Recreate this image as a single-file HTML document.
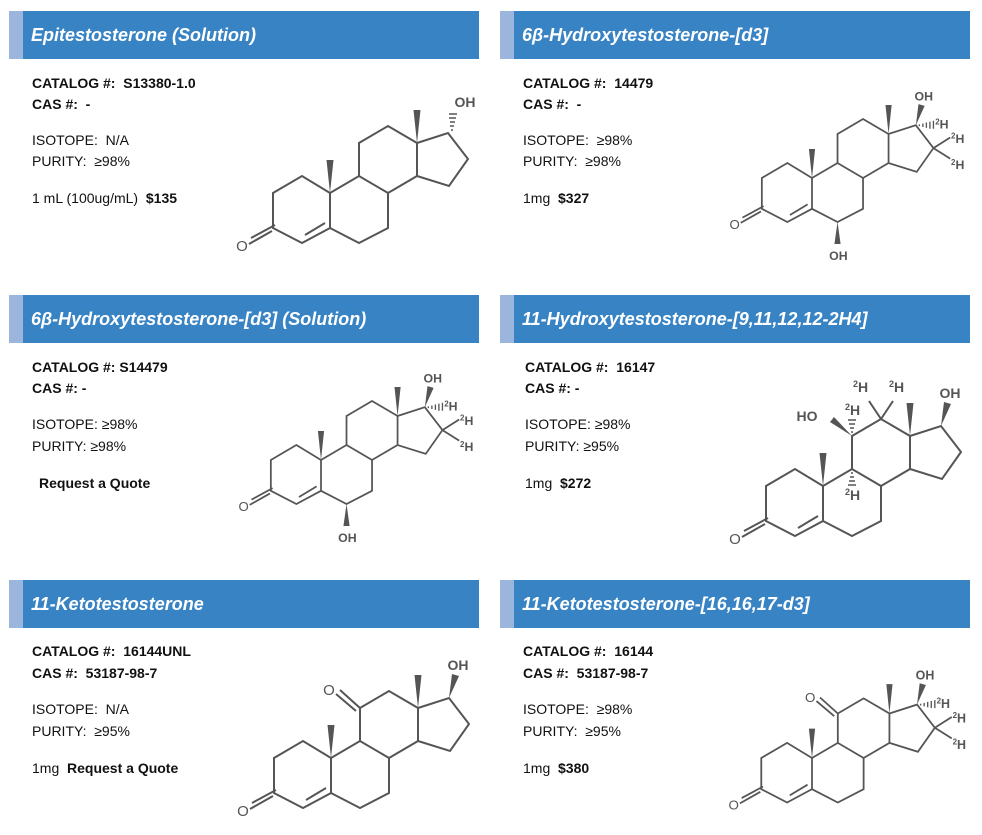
<!DOCTYPE html>
<html><head><meta charset="utf-8"><style>
body{margin:0;width:982px;height:835px;background:#fff;position:relative;font-family:"Liberation Sans",Arial,sans-serif;overflow:hidden}
.h{position:absolute;height:48px;width:470px;background:#3783c4;color:#fff;font-weight:bold;font-style:italic;font-size:18px;line-height:48px;box-sizing:border-box;padding-left:22px}
.h::before{content:"";position:absolute;left:0;top:0;width:14px;height:48px;background:#9bb5dd}
.t{position:absolute;font-size:14px;color:#111;white-space:pre;line-height:16px}
.b{font-weight:bold}
svg{position:absolute;left:0;top:0}
</style></head><body>
<div class="h" style="left:9px;top:11px">Epitestosterone (Solution)</div>
<div class="h" style="left:500px;top:11px">6β-Hydroxytestosterone-[d3]</div>
<div class="h" style="left:9px;top:295px">6β-Hydroxytestosterone-[d3] (Solution)</div>
<div class="h" style="left:500px;top:295px">11-Hydroxytestosterone-[9,11,12,12-2H4]</div>
<div class="h" style="left:9px;top:580px">11-Ketotestosterone</div>
<div class="h" style="left:500px;top:580px">11-Ketotestosterone-[16,16,17-d3]</div>

<div class="t b" style="left:32px;top:75px">CATALOG #:  S13380-1.0</div>
<div class="t b" style="left:32px;top:96px">CAS #:  -</div>
<div class="t" style="left:32px;top:132px">ISOTOPE:  N/A</div>
<div class="t" style="left:32px;top:153px">PURITY:  ≥98%</div>
<div class="t" style="left:32px;top:190px">1 mL (100ug/mL)  <b>$135</b></div>

<div class="t b" style="left:523px;top:75px">CATALOG #:  14479</div>
<div class="t b" style="left:523px;top:96px">CAS #:  -</div>
<div class="t" style="left:523px;top:132px">ISOTOPE:  ≥98%</div>
<div class="t" style="left:523px;top:153px">PURITY:  ≥98%</div>
<div class="t" style="left:523px;top:190px">1mg  <b>$327</b></div>

<div class="t b" style="left:32px;top:359px">CATALOG #: S14479</div>
<div class="t b" style="left:32px;top:380px">CAS #: -</div>
<div class="t" style="left:32px;top:416px">ISOTOPE: ≥98%</div>
<div class="t" style="left:32px;top:438px">PURITY: ≥98%</div>
<div class="t b" style="left:39px;top:475px">Request a Quote</div>

<div class="t b" style="left:525px;top:359px">CATALOG #:  16147</div>
<div class="t b" style="left:525px;top:380px">CAS #: -</div>
<div class="t" style="left:525px;top:416px">ISOTOPE: ≥98%</div>
<div class="t" style="left:525px;top:438px">PURITY: ≥95%</div>
<div class="t" style="left:525px;top:475px">1mg  <b>$272</b></div>

<div class="t b" style="left:32px;top:643px">CATALOG #:  16144UNL</div>
<div class="t b" style="left:32px;top:665px">CAS #:  53187-98-7</div>
<div class="t" style="left:32px;top:701px">ISOTOPE:  N/A</div>
<div class="t" style="left:32px;top:723px">PURITY:  ≥95%</div>
<div class="t" style="left:32px;top:760px">1mg  <b>Request a Quote</b></div>

<div class="t b" style="left:523px;top:643px">CATALOG #:  16144</div>
<div class="t b" style="left:523px;top:665px">CAS #:  53187-98-7</div>
<div class="t" style="left:523px;top:701px">ISOTOPE:  ≥98%</div>
<div class="t" style="left:523px;top:723px">PURITY:  ≥95%</div>
<div class="t" style="left:523px;top:760px">1mg  <b>$380</b></div>

<svg width="982" height="835" viewBox="0 0 982 835">
<defs>
<g id="core" fill="none" stroke="#555" stroke-width="2">
<path d="M0,0 L-28,-17 L-57,0 L-57,35 L-28,50 L0,35 Z"/>
<path d="M0,0 L29,-17 L58,0 L58,35 L29,50 L0,35"/>
<path d="M29,-17 L29,-50 L58,-67 L87,-50 L87,-17 L58,0"/>
<path d="M87,-50 L118,-60 L138,-34 L119,-7 L87,-17"/>
<line x1="-25" y1="42" x2="-5" y2="30"/>
<line x1="-55" y1="32" x2="-79" y2="45"/>
<line x1="-58" y1="38" x2="-81" y2="51"/>
<polygon points="0,0 -3.5,-33 3.5,-33" fill="#555" stroke="none"/>
<polygon points="87,-50 83.5,-83 90.5,-83" fill="#555" stroke="none"/>
</g>
<g id="o3"><text x="-88" y="58" font-size="15" fill="#555" text-anchor="middle" font-family="Liberation Sans,sans-serif">O</text></g>
<g id="ohbeta"><polygon points="118,-60 121,-84 128,-82" fill="#555"/><text x="127" y="-88" font-size="14" font-weight="bold" fill="#555" text-anchor="middle" font-family="Liberation Sans,sans-serif">OH</text></g>
<g id="d3" stroke="#555" stroke-width="1.5" fill="#555" font-size="14" font-weight="bold" font-family="Liberation Sans,sans-serif">
<path d="M122,-61v2M126,-62v4M130,-63v6M134,-64v8M138,-65v9"/>
<line x1="138" y1="-34" x2="157" y2="-46" stroke-width="2"/>
<line x1="138" y1="-34" x2="157" y2="-22" stroke-width="2"/>
<text x="140" y="-56" stroke="none"><tspan font-size="9" dy="-5">2</tspan><tspan dy="5">H</tspan></text>
<text x="158" y="-40" stroke="none"><tspan font-size="9" dy="-5">2</tspan><tspan dy="5">H</tspan></text>
<text x="158" y="-10" stroke="none"><tspan font-size="9" dy="-5">2</tspan><tspan dy="5">H</tspan></text>
</g>
<g id="oh6"><polygon points="29,50 25.5,75 32.5,75" fill="#555"/><text x="30" y="93" font-size="14" font-weight="bold" fill="#555" text-anchor="middle" font-family="Liberation Sans,sans-serif">OH</text></g>
<g id="keto11" stroke="#555" stroke-width="2"><line x1="29" y1="-50" x2="9" y2="-68"/><line x1="25" y1="-47" x2="5" y2="-64"/><text x="-2" y="-63" stroke="none" font-size="15" fill="#555" text-anchor="middle" font-family="Liberation Sans,sans-serif">O</text></g>
</defs>

<g transform="translate(330,193)">
<use href="#core"/><use href="#o3"/>
<path d="M121,-63h2M120,-67h4M120,-71h5M119,-75h7M119,-79h8" stroke="#555" stroke-width="1.5"/>
<text x="135" y="-86" font-size="14" font-weight="bold" fill="#555" text-anchor="middle" font-family="Liberation Sans,sans-serif">OH</text>
</g>
<g transform="translate(812,178) scale(0.88)">
<use href="#core"/><use href="#o3"/><use href="#ohbeta"/><use href="#d3"/><use href="#oh6"/>
</g>
<g transform="translate(321,460) scale(0.88)">
<use href="#core"/><use href="#o3"/><use href="#ohbeta"/><use href="#d3"/><use href="#oh6"/>
</g>
<g transform="translate(823,486)">
<use href="#core"/><use href="#o3"/><use href="#ohbeta"/>
<g stroke="#555" stroke-width="1.5" fill="#555" font-size="14" font-weight="bold" font-family="Liberation Sans,sans-serif">
<polygon points="29,-50 7,-64 11,-69" stroke="none"/>
<text x="-16" y="-65" stroke="none" text-anchor="middle">HO</text>
<path d="M28,-54h2M27,-58h4M26,-62h6M25,-66h8"/>
<text x="22" y="-71" stroke="none"><tspan font-size="9" dy="-5">2</tspan><tspan dy="5">H</tspan></text>
<path d="M28,-13h2M27,-9h4M26,-5h6M25,-1h8"/>
<text x="22" y="14" stroke="none"><tspan font-size="9" dy="-5">2</tspan><tspan dy="5">H</tspan></text>
<line x1="58" y1="-67" x2="46" y2="-85" stroke-width="2"/>
<line x1="58" y1="-67" x2="70" y2="-85" stroke-width="2"/>
<text x="30" y="-94" stroke="none"><tspan font-size="9" dy="-5">2</tspan><tspan dy="5">H</tspan></text>
<text x="66" y="-94" stroke="none"><tspan font-size="9" dy="-5">2</tspan><tspan dy="5">H</tspan></text>
</g>
</g>
<g transform="translate(331,758)">
<use href="#core"/><use href="#o3"/><use href="#ohbeta"/><use href="#keto11"/>
</g>
<g transform="translate(812,758) scale(0.89)">
<use href="#core"/><use href="#o3"/><use href="#ohbeta"/><use href="#d3"/><use href="#keto11"/>
</g>
</svg>
</body></html>
